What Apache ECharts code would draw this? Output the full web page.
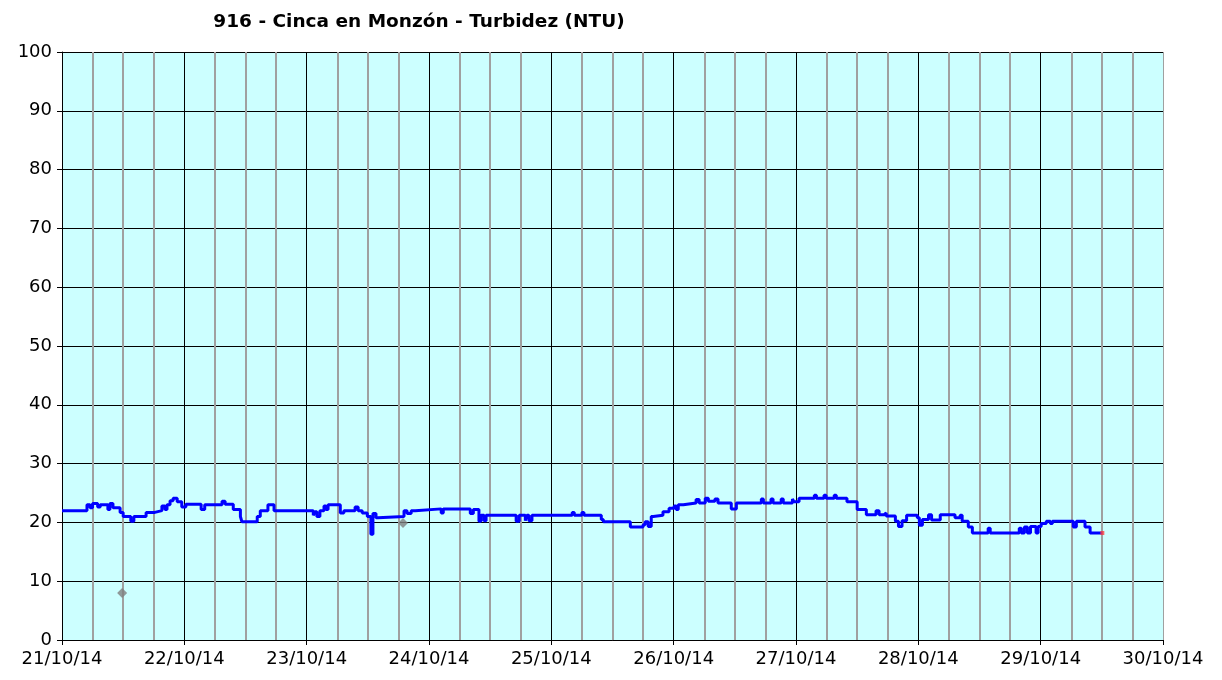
<!DOCTYPE html>
<html>
<head>
<meta charset="utf-8">
<title>916 - Cinca en Monzón - Turbidez (NTU)</title>
<script src="https://cdn.jsdelivr.net/npm/echarts@6/dist/echarts.min.js"></script>
<style>
	html, body {
		margin: 0;
		padding: 0;
		background: #ffffff;
	}
	#chart {
		width: 1222px;
		height: 680px;
	}
</style>
</head>
<body>
<div id="chart"></div>
<script>
	// inicio del periodo: 21/10/2014 00:00
	var startDay = Date.UTC(2014, 9, 21);
	var dayMs = 86400000;

	// horas desde el inicio (cambios de escalón) y turbidez (NTU)
	var hours = [0, 4.9, 5.5, 6.0, 7.0, 7.5, 9.0, 9.4, 10.0, 11.4, 12.0, 13.5, 14.1, 16.5, 18.2,
		19.6, 20.2, 20.6, 21.2, 21.8, 22.6, 23.5, 24.3, 27.3, 28.0, 31.4, 32.0, 33.6, 35.0, 35.3,
		38.3, 38.9, 40.4, 41.6, 49.3, 49.6, 50.0, 50.6, 51.4, 51.8, 52.2, 54.6, 55.3, 57.5, 58.1,
		58.9, 59.9, 60.6, 61.0, 61.6, 62.0, 67.1, 67.7, 68.5, 69.3, 74.4, 74.8, 80.1, 80.7, 81.8,
		82.2, 82.8, 83.2, 89.1, 89.7, 90.9, 91.2, 91.6, 92.2, 100.1, 100.5, 102.0, 102.4, 105.8, 106.2,
		111.5, 114.0, 114.4, 115.0, 115.6, 116.0, 117.9, 119.1, 120.1, 120.5, 120.9, 121.9, 124.4, 125.0, 126.2,
		126.8, 128.1, 128.7, 131.3, 132.3, 137.2, 137.6, 139.1, 139.5, 141.1, 141.5, 143.3, 143.6, 144.6, 147.6,
		148.0, 149.5, 149.9, 151.5, 151.9, 154.0, 156.0, 157.8, 159.7, 160.3, 161.3, 161.7, 163.5, 164.1, 164.8,
		165.7, 167.8, 168.2, 168.8, 170.0, 170.6, 172.3, 175.2, 176.2, 176.6, 177.8, 178.6, 181.7, 182.1, 187.8,
		188.2, 188.8, 189.4, 190.0, 191.1, 191.5, 192.1, 193.1, 193.9, 194.3, 198.4, 199.0, 200.7, 201.7, 204.1];
	var turbidez = [22.0, 23.0, 22.5, 23.2, 22.6, 23.0, 22.2, 23.2, 22.5, 21.7, 21.0, 20.2, 21.0, 21.7, 22.0,
		22.8, 22.2, 23.0, 23.7, 24.1, 23.5, 22.6, 23.1, 22.2, 23.0, 23.6, 23.1, 22.2, 21.0, 20.1,
		21.0, 22.0, 23.0, 22.0, 21.2, 21.8, 21.0, 22.0, 22.8, 22.2, 23.0, 21.6, 22.0, 22.6, 22.0,
		21.6, 21.0, 18.0, 21.5, 20.8, 21.0, 22.0, 21.5, 22.0, 22.3, 21.6, 22.3, 21.5, 22.2, 20.2,
		21.2, 20.3, 21.2, 20.2, 21.2, 20.3, 21.2, 20.3, 21.2, 21.7, 21.2, 21.7, 21.2, 20.5, 20.1,
		19.2, 19.6, 20.1, 19.3, 21.0, 21.2, 21.8, 22.4, 22.8, 22.2, 23.0, 23.3, 23.9, 23.3, 24.1,
		23.6, 24.0, 23.3, 22.3, 23.3, 24.0, 23.3, 24.0, 23.3, 24.0, 23.3, 24.0, 23.5, 24.1, 24.6,
		24.1, 24.6, 24.1, 24.6, 24.1, 23.5, 22.2, 21.3, 22.0, 21.3, 21.6, 21.1, 20.2, 19.3, 20.3,
		21.2, 20.8, 19.5, 20.5, 21.3, 20.4, 21.3, 20.8, 21.2, 20.2, 19.2, 18.2, 19.0, 18.2, 19.0,
		18.2, 19.2, 18.2, 19.3, 18.2, 19.3, 19.8, 20.2, 19.8, 20.2, 19.2, 20.2, 19.2, 18.2, 18.2];

	// valores sueltos (gris) y último dato (rojo)
	var sueltosHoras = [11.8, 66.9];
	var sueltosValores = [8.0, 19.9];
	var ultimoHora = [204.1];
	var ultimoValor = [18.2];

	function toPoints(hs, vs) {
		return hs.map(function(h, i) {
			return [startDay + h * 3600000, vs[i]];
		});
	}

	function pad(n) {
		return n < 10 ? '0' + n : '' + n;
	}

	var mychart = echarts.init(document.getElementById('chart'));
	var fontName = 'DejaVu Sans';
	// la última línea vertical (30/10) es gris como el borde
	var vColors = ['#000', '#000', '#000', '#000', '#000', '#000', '#000', '#000', '#000', '#a0a0a0'];

	var option = {
		animation: false,
		title: {
			text: '916 - Cinca en Monzón - Turbidez (NTU)',
			left: 414,
			top: 8,
			textAlign: 'center',
			textStyle: {
				fontFamily: fontName,
				fontSize: 18.5,
				fontWeight: 'bold',
				color: '#000'
			}
		},
		grid: {
			left: 62,
			right: 59,
			top: 52,
			bottom: 40,
			show: true,
			backgroundColor: '#ccffff',
			borderWidth: 0
		},
		xAxis: {
			type: 'value',
			min: startDay,
			max: startDay + 9 * dayMs,
			interval: dayMs,
			axisLine: {
				show: true,
				lineStyle: { color: '#000', width: 1 }
			},
			axisTick: {
				show: true,
				inside: false,
				length: 5,
				lineStyle: { color: '#000' }
			},
			axisLabel: {
				fontFamily: fontName,
				fontSize: 18,
				color: '#000',
				margin: 10,
				formatter: function(v) {
					var d = new Date(v);
					return pad(d.getUTCDate()) + '/' + pad(d.getUTCMonth() + 1) + '/' + pad(d.getUTCFullYear() % 100);
				}
			},
			splitLine: {
				show: true,
				lineStyle: { color: vColors, width: 1 }
			},
			minorTick: {
				show: false,
				splitNumber: 4
			},
			minorSplitLine: {
				show: true,
				lineStyle: { color: '#a0a0a0', width: 2 }
			}
		},
		yAxis: {
			type: 'value',
			min: 0,
			max: 100,
			interval: 10,
			axisLine: {
				show: true,
				lineStyle: { color: '#000', width: 1 }
			},
			axisTick: {
				show: true,
				inside: false,
				length: 5,
				lineStyle: { color: '#000' }
			},
			axisLabel: {
				fontFamily: fontName,
				fontSize: 18,
				color: '#000',
				margin: 10
			},
			splitLine: {
				show: true,
				lineStyle: { color: '#000', width: 1 }
			}
		},
		series: [{
			name: 'Turbidez',
			type: 'line',
			step: 'end',
			showSymbol: false,
			symbol: 'none',
			lineStyle: { color: '#0000ff', width: 3, cap: 'butt', join: 'bevel' },
			data: toPoints(hours, turbidez),
			z: 3
		}, {
			name: 'Sueltos',
			type: 'scatter',
			symbol: 'diamond',
			symbolSize: 10,
			itemStyle: { color: '#808080' },
			data: toPoints(sueltosHoras, sueltosValores),
			z: 4
		}, {
			name: 'Último',
			type: 'scatter',
			symbol: 'rect',
			symbolSize: 4,
			itemStyle: { color: '#ff4040' },
			data: toPoints(ultimoHora, ultimoValor),
			z: 5
		}]
	};
	mychart.setOption(option);
</script>
</body>
</html>
